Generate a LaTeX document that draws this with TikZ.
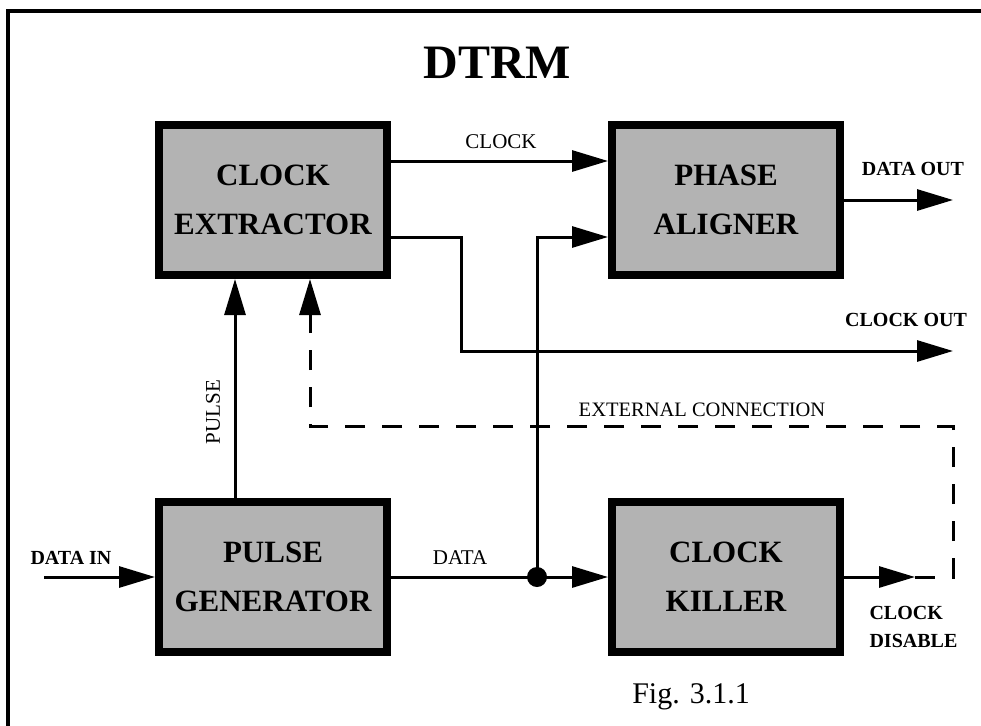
\documentclass[tikz,border=0pt]{standalone}
\usepackage{fontspec}
\setmainfont{Liberation Serif}
\usetikzlibrary{arrows.meta,positioning}
\definecolor{boxgray}{RGB}{179,179,179}
\tikzset{
  blk/.style={draw,line width=8pt,fill=boxgray,minimum width=228pt,minimum height=150pt,
    align=center,font=\fontsize{31}{49}\selectfont\bfseries},
  wire/.style={line width=3pt},
  sig/.style={wire,-{Triangle[length=36pt,width=21pt]}},
  extline/.style={wire,dash pattern=on 20pt off 17pt},
  lbl/.style={font=\fontsize{21}{24}\selectfont},
  blbl/.style={font=\fontsize{20}{28}\selectfont\bfseries},
}
\begin{document}
\begin{tikzpicture}[x=1pt,y=-1pt]
\useasboundingbox (0,0) rectangle (981,725);
\clip (0,0) rectangle (981,725);
\draw[line width=3.5pt] (8,11) rectangle (1000,745);
\node[font=\fontsize{48}{50}\selectfont\bfseries] (title) at (497,63) {DTRM};
\node[blk] (ce) at (273,200) {CLOCK\\EXTRACTOR};
\node[blk] (pa) at (726,200) {PHASE\\ALIGNER};
\node[blk] (pg) at (273,577) {PULSE\\GENERATOR};
\node[blk] (ck) at (726,577) {CLOCK\\KILLER};
\coordinate (din) at (44,577);
\coordinate (dot) at (537,577);
\coordinate (dout) at (953,200);
\coordinate (cout) at (953,351);
\coordinate (cdis) at (915,577);
\draw[sig] (din) -- (pg.west);
\draw[sig] ([xshift=-38pt]pg.north) -- ([xshift=-38pt]ce.south);
\draw[sig] ([yshift=39pt]ce.east) -- ([yshift=39pt]pa.west);
\draw[sig] ([yshift=-37pt]ce.east) -| (461,351) -- (cout);
\draw[wire] (pg.east) -- (dot);
\fill (dot) circle (10pt);
\draw[sig] (dot) -- (ck.west);
\draw[sig] (dot) |- ([yshift=-37pt]pa.west);
\draw[sig] (pa.east) -- (dout);
\draw[sig] (ck.east) -- (cdis);
\draw[extline,-{Triangle[length=36pt,width=21pt]}] (cdis) -| (953,426) -| ([xshift=37pt]ce.south);
\node[lbl] (lclk) at (501,142) {CLOCK};
\node[blbl] (ldout) at (913,169) {DATA OUT};
\node[blbl] (lcout) at (906,320) {CLOCK OUT};
\node[lbl,font=\fontsize{20.5}{24}\selectfont] (lext) at (702,410) {EXTERNAL CONNECTION};
\node[lbl,rotate=90] (lpls) at (213,412) {PULSE};
\node[blbl] (ldin) at (71,558) {DATA IN};
\node[lbl] (ldat) at (460,558) {DATA};
\node[blbl,anchor=west,align=left] (lcdis) at (866,627) {CLOCK\\DISABLE};
\node[font=\fontsize{30}{32}\selectfont] (fig) at (691,697) {Fig. 3.1.1};
\end{tikzpicture}
\end{document}
